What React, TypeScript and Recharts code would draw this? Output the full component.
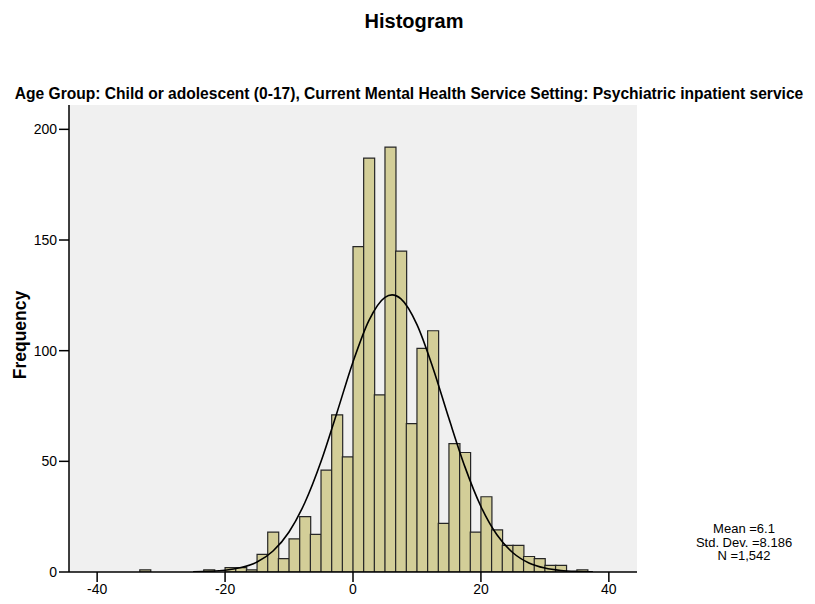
import React from 'react';
import { ComposedChart, Bar, Line, XAxis, YAxis, CartesianGrid } from 'recharts';

// Histogram bins (bin width 5/3), indexed from 0 upward and downward
const binWidth = 5 / 3;
const binIndices = [
  -21, -20, -19, -18, -17, -16, -15, -14, -13, -12, -11, -10, -9, -8, -7, -6, -5, -4, -3, -2, -1,
  0, 1, 2, 3, 4, 5, 6, 7, 8, 9, 10, 11, 12, 13, 14, 15, 16, 17, 18, 19, 20, 21,
];
const counts = [
  0, 1, 0, 0, 0, 0, 0, 1, 0, 2, 2, 1, 8, 18, 6, 15, 25, 17, 46, 71, 52,
  147, 187, 80, 192, 145, 67, 101, 109, 22, 58, 54, 18, 34, 19, 12, 12, 7, 6, 3, 3, 0, 1,
];

// Fitted normal curve
const curveX = [-25, -20, -17.5, -15, -12.5, -10, -7.5, -5, -2.5, 0, 2.5, 5, 6.1, 7.5, 10, 12.5, 15, 17.5, 20, 22.5, 25, 27.5, 30, 32.5, 35, 37.5];
const curveY = [0.1, 0.8, 2.0, 4.5, 9.5, 18.1, 31.5, 49.9, 72.1, 94.9, 113.7, 124.1, 125.2, 123.4, 111.8, 92.2, 69.3, 47.5, 29.6, 16.8, 8.7, 4.1, 1.8, 0.7, 0.25, 0.08];

const xTicks = [-40, -20, 0, 20, 40];
const yTicks = [0, 50, 100, 150, 200];
const xDomain: [number, number] = [-44.4, 44.4];
const yDomain: [number, number] = [0, 211];

const titleText = 'Histogram';
const subtitleText =
  'Age Group: Child or adolescent (0-17), Current Mental Health Service Setting: Psychiatric inpatient service';
const yLabelText = 'Frequency';
const statsLines = ['Mean =6.1', 'Std. Dev. =8.186', 'N =1,542'];

const binData = binIndices.map((k, i) => ({ x: (k + 0.5) * binWidth, count: counts[i] }));
const curveData = curveX.map((x, i) => ({ x, y: curveY[i] }));

const FONT = '"Liberation Sans", Arial, Helvetica, sans-serif';
const tickStyle = { fontFamily: FONT, fontSize: 14, fill: '#000' };

export default function App() {
  return (
    <div style={{ position: 'absolute', left: 0, top: 0, width: 815, height: 604, background: '#fff', fontFamily: FONT }}>
      <ComposedChart
        width={815}
        height={604}
        data={binData}
        margin={{ top: 105, right: 178, bottom: 2, left: 0 }}
        barCategoryGap={0}
        barGap={0}
      >
        <CartesianGrid fill="#f0f0f0" horizontal={false} vertical={false} />
        <XAxis
          xAxisId={0}
          dataKey="x"
          type="number"
          domain={xDomain}
          allowDataOverflow
          ticks={xTicks}
          interval={0}
          height={30}
          tickSize={10}
          tick={tickStyle}
          stroke="#000"
          tickLine={{ stroke: '#000', strokeWidth: 1.5 }}
          axisLine={{ stroke: '#000', strokeWidth: 1.5 }}
        />
        <XAxis
          xAxisId="top"
          orientation="top"
          dataKey="x"
          type="number"
          domain={xDomain}
          allowDataOverflow
          height={0}
          tick={false}
          tickLine={false}
          axisLine={{ stroke: '#000', strokeWidth: 1.5 }}
        />
        <XAxis
          xAxisId="curve"
          dataKey="x"
          type="number"
          domain={xDomain}
          allowDataOverflow
          hide
        />
        <YAxis
          yAxisId={0}
          type="number"
          domain={yDomain}
          allowDataOverflow
          ticks={yTicks}
          interval={0}
          width={69}
          tickSize={10}
          tick={tickStyle}
          tickLine={{ stroke: '#000', strokeWidth: 1.5 }}
          axisLine={{ stroke: '#000', strokeWidth: 1.5 }}
        />
        <YAxis
          yAxisId="right"
          orientation="right"
          type="number"
          domain={yDomain}
          width={0}
          tick={false}
          tickLine={false}
          axisLine={{ stroke: '#000', strokeWidth: 1.5 }}
        />
        <Bar
          dataKey="count"
          xAxisId={0}
          yAxisId={0}
          fill="#d3ce98"
          stroke="#262626"
          strokeWidth={1.2}
          isAnimationActive={false}
        />
        <Line
          data={curveData}
          dataKey="y"
          xAxisId="curve"
          yAxisId={0}
          type="monotone"
          stroke="#000"
          strokeWidth={1.6}
          dot={false}
          activeDot={false}
          isAnimationActive={false}
        />
      </ComposedChart>
      <div
        style={{
          position: 'absolute', left: 414, top: 21, transform: 'translate(-50%, -50%)',
          fontWeight: 'bold', fontSize: 20, whiteSpace: 'nowrap', color: '#000',
        }}
      >
        {titleText}
      </div>
      <div
        style={{
          position: 'absolute', left: 409, top: 94, transform: 'translate(-50%, -50%)',
          fontWeight: 'bold', fontSize: 15.6, whiteSpace: 'nowrap', color: '#000',
        }}
      >
        {subtitleText}
      </div>
      <div
        style={{
          position: 'absolute', left: 20, top: 335, transform: 'translate(-50%, -50%) rotate(-90deg)',
          fontWeight: 'bold', fontSize: 17.5, whiteSpace: 'nowrap', color: '#000',
        }}
      >
        {yLabelText}
      </div>
      <div
        style={{
          position: 'absolute', left: 744, top: 542, transform: 'translate(-50%, -50%)',
          fontSize: 13, lineHeight: '13.5px', textAlign: 'center', whiteSpace: 'nowrap', color: '#000',
        }}
      >
        {statsLines.map((s) => (
          <div key={s}>{s}</div>
        ))}
      </div>
    </div>
  );
}
